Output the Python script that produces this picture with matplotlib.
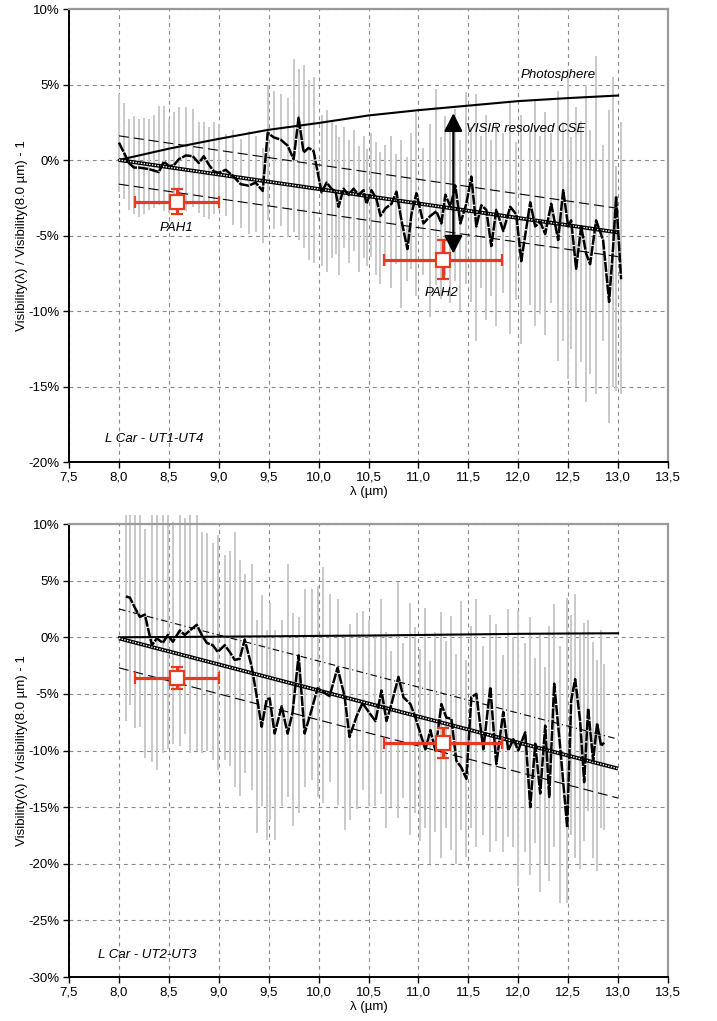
import matplotlib
matplotlib.use('Agg')
import matplotlib.pyplot as plt
import numpy as np
from matplotlib.ticker import FuncFormatter, MultipleLocator

plt.rcParams['font.family'] = ['Liberation Sans', 'DejaVu Sans']

# ---------------- DATA (values in %) ----------------
# Top panel: L Car - UT1-UT4
top_wl = [8.00, 8.05, 8.10, 8.15, 8.20, 8.25, 8.30, 8.35, 8.40, 8.45,
          8.50, 8.55, 8.60, 8.67, 8.74, 8.80, 8.85, 8.90, 8.95, 9.00,
          9.07, 9.14, 9.22, 9.30, 9.37, 9.44, 9.49, 9.55, 9.62, 9.69,
          9.75, 9.80, 9.85, 9.90, 9.95, 10.03, 10.08, 10.13, 10.17, 10.20,
          10.25, 10.30, 10.35, 10.40, 10.45, 10.48, 10.53, 10.58, 10.62, 10.67,
          10.73, 10.78, 10.83, 10.89, 10.93, 10.98, 11.05, 11.12, 11.18, 11.23,
          11.27, 11.32, 11.37, 11.42, 11.48, 11.53, 11.58, 11.63, 11.68, 11.73,
          11.78, 11.85, 11.92, 11.98, 12.03, 12.12, 12.17, 12.22, 12.27, 12.33,
          12.40, 12.45, 12.50, 12.53, 12.58, 12.63, 12.68, 12.72, 12.78, 12.85,
          12.91, 12.95, 12.98, 13.03]
top_vis = [1.15, 0.5, -0.2, -0.5, -0.5, -0.55, -0.6, -0.7, -0.8, -0.1,
           -0.4, -0.35, 0.05, 0.3, 0.25, -0.2, 0.25, -0.3, -0.75, -0.85,
           -0.65, -1.05, -1.6, -1.7, -1.5, -2.05, 1.8, 1.5, 1.35, 0.95,
           0.05, 2.8, 0.5, 0.8, 0.6, -2.15, -1.5, -1.9, -2.1, -3.1,
           -1.9, -2.3, -1.9, -2.3, -2.0, -2.9, -2.0, -2.6, -3.7, -3.2,
           -2.9, -2.1, -4.0, -5.9, -3.6, -2.2, -4.2, -3.7, -3.4, -4.2,
           -2.3, -3.1, -1.7, -4.2, -2.9, -1.1, -4.4, -3.0, -3.3, -5.7,
           -3.3, -4.7, -3.1, -3.6, -6.7, -2.8, -4.4, -4.1, -4.9, -2.9,
           -5.3, -2.0, -4.4, -4.0, -7.2, -4.4, -6.2, -6.9, -4.0, -5.3,
           -9.4, -5.8, -2.4, -7.9]
top_hi = [4.4, 3.8, 2.7, 2.9, 2.7, 2.8, 2.7, 3.0, 3.6, 3.6,
          2.7, 3.2, 3.5, 3.5, 3.4, 2.5, 2.5, 2.2, 2.5, 2.4,
          1.7, 2.0, 1.4, 1.9, 1.6, 0.8, 5.0, 4.6, 4.4, 4.1,
          6.7, 6.0, 6.3, 5.3, 5.5, 3.0, 3.3, 2.6, 2.3, 1.5,
          2.2, 1.3, 2.0, 0.9, 1.6, 0.7, 1.8, 1.2, 0.5, 1.0,
          1.6, 0.4, 1.3, 0.2, 1.8, 3.2, 0.8, 2.4, 4.7, 1.5,
          2.9, 2.0, 3.4, 1.3, 4.5, 2.2, 4.4, 1.6, 3.0, 1.3,
          2.5, 1.8, 3.9, 1.2, 3.0, 2.0, 4.0, 1.6, 3.2, 1.8,
          4.6, 2.5, 6.0, 1.5, 3.5, 2.6, 5.0, 2.0, 6.9, 1.0,
          3.3, 5.5, -0.4, 2.5]
top_lo = [-2.1, -2.6, -3.3, -3.6, -3.8, -3.6, -3.3, -3.2, -3.0, -3.4,
          -3.5, -3.2, -3.0, -3.4, -3.1, -3.5, -3.8, -3.9, -3.6, -3.3,
          -3.7, -4.3, -4.5, -4.9, -4.8, -5.5, -4.0, -4.6, -4.4, -5.1,
          -4.8, -5.3, -5.8, -6.6, -6.8, -7.0, -7.4, -6.5, -6.2, -7.6,
          -5.8, -6.8, -6.0, -7.4, -6.5, -7.0, -6.4, -7.6, -8.2, -7.0,
          -8.5, -6.9, -9.8, -8.0, -7.2, -9.0, -7.6, -10.4, -8.3, -9.2,
          -7.6, -9.5, -8.0, -10.0, -8.2, -9.4, -12.0, -8.5, -10.6, -9.0,
          -11.0, -8.8, -11.5, -9.3, -12.2, -9.6, -11.0, -10.2, -11.6, -9.5,
          -13.3, -12.0, -14.5, -12.5, -15.0, -13.4, -16.0, -14.2, -15.5, -12.0,
          -17.4, -15.0, -15.3, -15.5]

# Bottom panel: L Car - UT2-UT3
bot_wl = [8.07, 8.11, 8.16, 8.21, 8.26, 8.33, 8.38, 8.44, 8.49, 8.54,
          8.61, 8.66, 8.71, 8.78, 8.83, 8.88, 8.94, 8.99, 9.06, 9.11,
          9.16, 9.21, 9.26, 9.33, 9.38, 9.43, 9.48, 9.51, 9.56, 9.63,
          9.69, 9.74, 9.80, 9.86, 9.93, 9.99, 10.04, 10.11, 10.19, 10.26,
          10.31, 10.38, 10.44, 10.51, 10.57, 10.63, 10.68, 10.73, 10.80, 10.85,
          10.92, 10.97, 11.02, 11.07, 11.12, 11.17, 11.23, 11.28, 11.33, 11.38,
          11.43, 11.48, 11.53, 11.58, 11.65, 11.72, 11.78, 11.85, 11.90, 11.95,
          12.00, 12.07, 12.12, 12.17, 12.22, 12.27, 12.31, 12.36, 12.42, 12.49,
          12.53, 12.57, 12.62, 12.66, 12.70, 12.75, 12.79, 12.83, 12.86]
bot_vis = [3.6, 3.5, 2.6, 1.8, 2.0, -0.7, -0.1, -0.5, 0.2, -0.4,
           0.6, 0.2, 0.6, 1.1, 0.2, -0.5, -0.7, -1.3, -0.7, -1.3,
           -2.0, -1.9, -0.2, -2.6, -5.2, -7.9, -5.5, -5.4, -8.5, -6.1,
           -8.5, -6.6, -1.6, -8.5, -6.4, -4.5, -4.8, -5.2, -2.7, -5.2,
           -8.8, -7.0, -5.8, -6.7, -7.4, -4.7, -7.4, -5.9, -3.5, -5.3,
           -5.9, -7.1, -8.5, -9.9, -8.2, -10.0, -5.9, -7.1, -7.2, -10.9,
           -11.5, -12.5, -5.3, -5.0, -9.9, -4.4, -11.2, -6.6, -10.0, -9.0,
           -10.0, -8.4, -15.0, -9.4, -13.8, -7.8, -14.1, -4.1, -9.7, -16.8,
           -5.6, -3.7, -7.4, -12.8, -6.3, -10.9, -7.6, -9.6, -9.3]
bot_hi = [10.8, 10.8, 10.8, 10.8, 9.6, 10.8, 10.8, 10.8, 10.8, 10.2,
          10.8, 10.5, 10.8, 10.8, 9.3, 9.2, 8.3, 9.0, 7.3, 7.6,
          9.3, 6.8, 5.6, 6.5, 1.5, 3.7, 0.6, 3.0, 0.6, 1.5,
          6.5, 2.1, 1.8, 4.3, 4.3, 4.5, 6.2, 3.8, 3.4, 0.2,
          1.2, 2.1, 2.3, 1.5, 0.3, 3.4, 0.5, -1.2, 4.9, -0.5,
          3.0, 0.9, -1.0, 2.6, -2.1, 0.5, 2.2, -0.3, 1.9, -1.5,
          3.2, -2.0, 1.0, 3.4, -0.8, 2.0, 1.2, -1.6, 2.5, 0.0,
          2.3, -0.5, 1.8, -1.8, 0.4, -2.6, 1.0, 2.9, -0.8, 3.5,
          2.0, 3.8, 0.3, 1.3, 1.5, -0.4, -2.0, 0.6, -2.4]
bot_lo = [-7.4, -6.0, -8.0, -7.9, -10.7, -11.0, -11.7, -10.2, -9.9, -9.4,
          -9.6, -8.5, -10.2, -10.0, -10.2, -10.0, -10.8, -11.7, -10.8, -11.4,
          -13.2, -14.0, -12.0, -13.5, -17.3, -14.9, -17.9, -16.1, -17.9, -14.9,
          -14.1, -16.7, -15.5, -13.2, -12.6, -14.1, -14.6, -12.8, -14.8, -17.0,
          -16.1, -15.2, -13.5, -14.9, -14.9, -13.8, -16.8, -15.0, -16.0, -14.2,
          -17.5, -15.5, -18.0, -16.8, -20.0, -17.2, -19.5, -16.8, -18.8, -20.0,
          -17.0, -19.4, -16.8, -18.5, -17.5, -19.0, -18.0, -19.0, -17.6, -18.5,
          -22.0, -19.0, -21.0, -18.2, -22.5, -20.0, -21.5, -18.5, -23.5, -23.5,
          -17.5, -19.5, -20.5, -18.0, -15.3, -19.5, -20.6, -16.8, -17.0]

# Photosphere model curves
phot_wl = [8.0, 8.5, 9.0, 9.5, 10.0, 10.5, 11.0, 11.5, 12.0, 12.5, 13.0]
phot_top = [0.0, 0.75, 1.4, 2.0, 2.45, 2.95, 3.3, 3.6, 3.9, 4.1, 4.27]
phot_bot = [0.0, 0.02, 0.05, 0.08, 0.12, 0.15, 0.2, 0.25, 0.3, 0.33, 0.35]

# Linear fits and their bands
fit_wl = [8.0, 13.0]
fit_top = [0.0, -4.8]
band_top = 1.6
fit_bot = [-0.1, -11.6]
band_bot = 2.6

# PAH points: wavelength, value, x half-width, y half-error
pah_names = ['PAH1', 'PAH2']
pah_wl = [8.58, 11.25]
pah_xerr = [0.42, 0.59]
pah_top = [-2.75, -6.6]
pah_top_err = [0.8, 1.3]
pah_bot = [-3.6, -9.35]
pah_bot_err = [0.95, 1.3]

RED = '#e63b1f'
GRAY = '#c9c9c9'

fig = plt.figure(figsize=(7.17, 10.21), dpi=100)
ax1 = fig.add_axes([69/717, 1-462/1021, 599/717, 453/1021])
ax2 = fig.add_axes([69/717, 1-977/1021, 599/717, 453/1021])


def style_axes(ax, ymin, ymax):
    ax.set_xlim(7.5, 13.5)
    ax.set_ylim(ymin, ymax)
    ax.xaxis.set_major_locator(MultipleLocator(0.5))
    ax.yaxis.set_major_locator(MultipleLocator(5))
    ax.xaxis.set_major_formatter(FuncFormatter(lambda v, p: f"{v:.1f}".replace('.', ',')))
    ax.yaxis.set_major_formatter(FuncFormatter(lambda v, p: f"{int(round(v))}%"))
    ax.grid(True, color='#8a8a8a', linestyle=(0, (3.5, 3.5)), linewidth=0.8)
    ax.set_axisbelow(True)
    for s in ['top', 'right']:
        ax.spines[s].set_color('#9a9a9a')
        ax.spines[s].set_linewidth(1.6)
    for s in ['left', 'bottom']:
        ax.spines[s].set_color('black')
        ax.spines[s].set_linewidth(1.4)
    ax.tick_params(axis='both', direction='out', length=4, width=1, labelsize=9.5, pad=3)
    ax.set_xlabel('λ (µm)', fontsize=9.5)
    ax.xaxis.set_label_coords(0.5, -0.052)
    ax.set_ylabel('Visibility(λ) / Visibility(8.0 µm) - 1', fontsize=9.5)
    ax.yaxis.set_label_coords(-0.068, 0.5)


def draw_panel(ax, wl, vis, hi, lo, phot, fit, band, upper_ls, pah_y, pah_yerr):
    ax.vlines(wl, lo, hi, colors=GRAY, linewidth=1.4, zorder=1, clip_on=False)
    ax.plot(phot_wl, phot, color='black', lw=1.5, zorder=3)
    fw = np.array(fit_wl)
    fv = np.array(fit)
    ax.plot(fw, fv + band, color='black', lw=0.8, linestyle=upper_ls, zorder=3)
    ax.plot(fw, fv - band, color='black', lw=0.8, linestyle=(0, (9, 4.5)), zorder=3)
    ax.plot(fw, fv, color='black', lw=2.8, zorder=3, solid_capstyle='butt')
    ax.plot(fw, fv, color='white', lw=1.0, linestyle=(0, (1, 1)), zorder=3.1)
    ax.plot(wl, vis, color='black', lw=1.8, linestyle=(0, (4, 0.5)), zorder=4)
    ax.errorbar(pah_wl, pah_y, xerr=pah_xerr, yerr=pah_yerr, fmt='s', mfc='white',
                mec=RED, mew=1.6, ms=10, ecolor=RED, elinewidth=2.3, capsize=4.5,
                capthick=2.5, zorder=6)


style_axes(ax1, -20, 10)
draw_panel(ax1, top_wl, top_vis, top_hi, top_lo, phot_top, fit_top, band_top,
           (0, (9, 4.5)), pah_top, pah_top_err)
style_axes(ax2, -30, 10)
draw_panel(ax2, bot_wl, bot_vis, bot_hi, bot_lo, phot_bot, fit_bot, band_bot,
           (0, (6, 3, 1, 3)), pah_bot, pah_bot_err)

# Annotations top panel
ax1.annotate('', xy=(11.35, 3.1), xytext=(11.35, -6.2),
             arrowprops=dict(arrowstyle='<|-|>,head_length=0.55,head_width=0.28',
                             color='black', lw=1.6, shrinkA=0, shrinkB=0,
                             mutation_scale=20), zorder=7)
ax1.text(12.02, 5.65, 'Photosphere', style='italic', fontsize=9.5, ha='left', va='center')
ax1.text(11.48, 2.05, 'VISIR resolved CSE', style='italic', fontsize=9.5, ha='left', va='center')
ax1.text(pah_wl[0], -4.5, pah_names[0], style='italic', fontsize=9.5, ha='center', va='center')
ax1.text(pah_wl[1] - 0.02, -8.8, pah_names[1], style='italic', fontsize=9.5, ha='center', va='center')
ax1.text(7.86, -18.45, 'L Car - UT1-UT4', style='italic', fontsize=9.5, ha='left', va='center')
ax2.text(7.79, -28.06, 'L Car - UT2-UT3', style='italic', fontsize=9.5, ha='left', va='center')

fig.savefig('out.png', dpi=100)
